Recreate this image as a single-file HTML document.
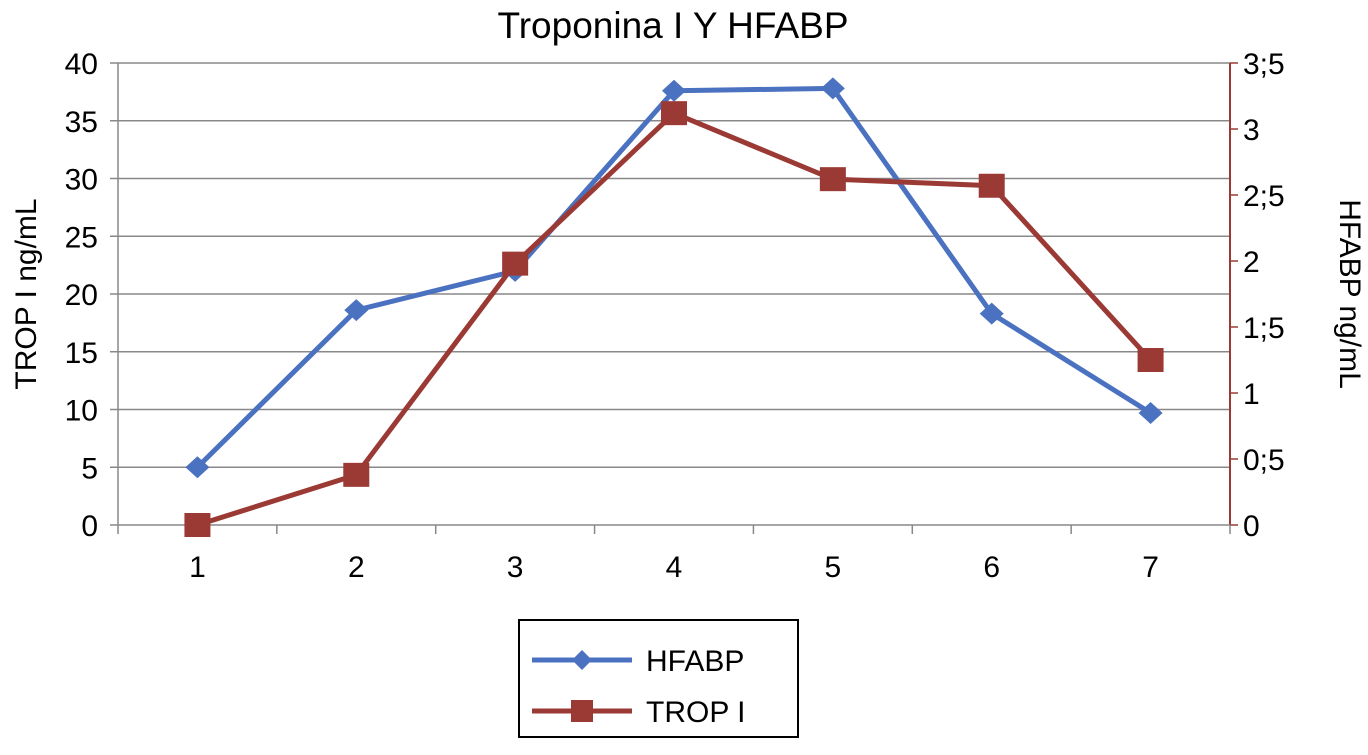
<!DOCTYPE html>
<html><head><meta charset="utf-8"><style>
body{margin:0;background:#fff;}
svg text{font-family:"Liberation Sans",Arial,sans-serif;}
</style></head><body>
<svg id="chart" width="1368" height="750" xmlns="http://www.w3.org/2000/svg">
<text x="673" y="38" font-size="37" text-anchor="middle">Troponina I Y HFABP</text>
<text transform="translate(36,294) rotate(-90)" font-size="30" text-anchor="middle">TROP I ng/mL</text>
<text transform="translate(1340,294) rotate(90)" font-size="30" text-anchor="middle">HFABP ng/mL</text>
<g id="grid"></g>
<g id="axes"></g>
<g id="series"></g>
<g>
<rect x="519" y="620" width="279" height="117" fill="#fff" stroke="#000" stroke-width="2"/>
<g>
<line x1="532" y1="660" x2="632" y2="660" stroke="#4a72c0" stroke-width="5"/>
<polygon points="582,650 592,660 582,670 572,660" fill="#4a72c0"/>
<text x="646" y="671" font-size="30">HFABP</text></g>
<g>
<line x1="532" y1="711" x2="632" y2="711" stroke="#9b3a35" stroke-width="5"/>
<rect x="571" y="700" width="22" height="22" fill="#9b3a35"/>
<text x="646" y="722" font-size="30">TROP I</text></g>
</g>
</svg>
<script>
const categories=["1","2","3","4","5","6","7"];
const hfabpValues=[5,18.6,22,37.6,37.8,18.3,9.7];
const tropValues=[0,0.38,1.98,3.12,2.62,2.57,1.25];
const leftTicks=[0,5,10,15,20,25,30,35,40];
const rightTicks=["0","0;5","1","1;5","2","2;5","3","3;5"];
const NS="http://www.w3.org/2000/svg";
const X0=118,X1=1230,Y0=525,Y1=63;
const bw=(X1-X0)/categories.length;
function xPos(i){return X0+bw*(i+0.5);}
function yL(v){return Y0-(v/40)*(Y0-Y1);}
function yR(v){return Y0-(v/3.5)*(Y0-Y1);}
function mk(tag,attrs,parent){const e=document.createElementNS(NS,tag);for(const k in attrs)e.setAttribute(k,attrs[k]);parent.appendChild(e);return e;}
const grid=document.getElementById('grid'),axes=document.getElementById('axes'),ser=document.getElementById('series');
leftTicks.forEach(t=>{const y=yL(t);
 if(t>0){const g=mk('line',{x1:X0,x2:X1,y1:y,y2:y,stroke:'#888','stroke-width':1.5},grid);
 
 }
 const tk=mk('line',{x1:X0-8,x2:X0,y1:y,y2:y,stroke:'#888','stroke-width':1.5},axes);
 
 
 const tx=mk('text',{x:X0-20,y:y+11,'font-size':30,'text-anchor':'end'},axes);tx.textContent=t;
 
 
});
rightTicks.forEach((t,i)=>{const y=yR(i*0.5);
 const tk=mk('line',{x1:X1,x2:X1+8,y1:y,y2:y,stroke:'#9b3a35','stroke-width':1.5},axes);
 
 
 const tx=mk('text',{x:X1+13,y:y+11,'font-size':30},axes);tx.textContent=t;
 
 
});
let a=mk('line',{x1:X0,x2:X0,y1:Y1,y2:Y0,stroke:'#888','stroke-width':1.5},axes);


a=mk('line',{x1:X1,x2:X1,y1:Y1,y2:Y0,stroke:'#9b3a35','stroke-width':2},axes);


a=mk('line',{x1:X0,x2:X1,y1:Y0,y2:Y0,stroke:'#888','stroke-width':1.5},axes);


for(let i=0;i<=categories.length;i++){const x=X0+bw*i;
 const tk=mk('line',{x1:x,x2:x,y1:Y0,y2:Y0+9,stroke:'#888','stroke-width':1.5},axes);
 
 }
categories.forEach((c,i)=>{const tx=mk('text',{x:xPos(i),y:577,'font-size':30,'text-anchor':'middle'},axes);tx.textContent=c;
 
 });
let p=mk('polyline',{points:hfabpValues.map((v,i)=>xPos(i)+','+yL(v)).join(' '),fill:'none',stroke:'#4a72c0','stroke-width':5},ser);


p=mk('polyline',{points:tropValues.map((v,i)=>xPos(i)+','+yR(v)).join(' '),fill:'none',stroke:'#9b3a35','stroke-width':5},ser);


hfabpValues.forEach((v,i)=>{const x=xPos(i),y=yL(v);
 const m=mk('polygon',{points:`${x},${y-11} ${x+12},${y} ${x},${y+11} ${x-12},${y}`,fill:'#4a72c0'},ser);
 
 });
tropValues.forEach((v,i)=>{const x=xPos(i),y=yR(v);
 const m=mk('rect',{x:x-13,y:y-12,width:26,height:24,fill:'#9b3a35'},ser);
 
 });
</script>
</body></html>
